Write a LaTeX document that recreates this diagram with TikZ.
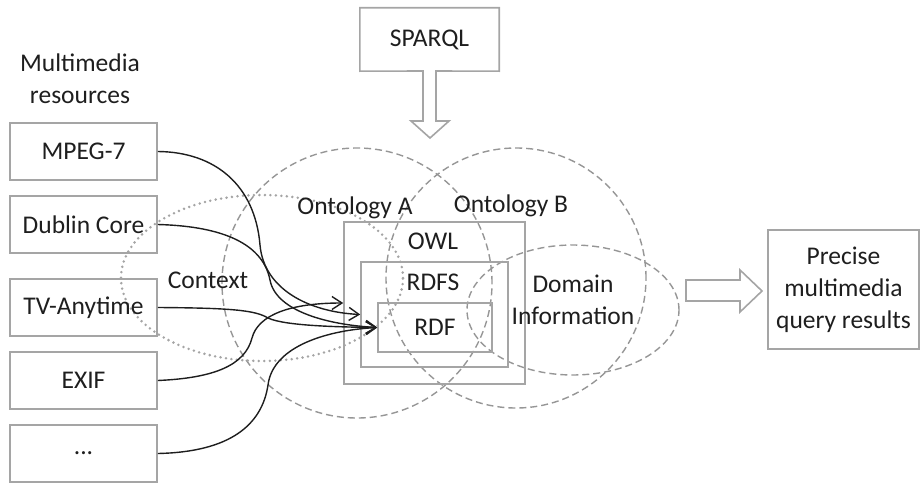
\documentclass[tikz,border=0pt]{standalone}
\usepackage{fontspec}
\setmainfont{Carlito}
\usetikzlibrary{arrows.meta}
\definecolor{boxgray}{RGB}{165,165,165}
\definecolor{ringgray}{RGB}{150,150,150}
\definecolor{dotgray}{RGB}{165,165,165}
\definecolor{inkgray}{RGB}{30,30,30}
\begin{document}
\begin{tikzpicture}[x=1pt,y=-1pt,
  every node/.style={font=\fontsize{25.5pt}{32pt}\selectfont, text=inkgray},
  resbox/.style={draw=boxgray, line width=1.6pt, minimum width=147pt, minimum height=57pt, inner sep=0pt},
  layerbox/.style={draw=boxgray, line width=1.6pt, inner sep=0pt},
  plainlbl/.style={inner sep=0pt, align=center},
  ring/.style={draw=ringgray, line width=1.4pt, dash pattern=on 7pt off 4pt},
  ctxring/.style={draw=dotgray, line width=2.8pt, line cap=round, dash pattern=on 0pt off 5.5pt},
  feed/.style={draw=inkgray, line width=1.4pt, -{Straight Barb[length=10pt,width=13pt,line width=1.4pt]}},
  blockarrow/.style={draw=boxgray, line width=1.6pt, fill=white, line join=miter}
]
\useasboundingbox (0,0) rectangle (920,484);

% ontology rings, context and domain regions
\draw[ring] (357,283) circle[radius=135pt];
\draw[ring] (516,278) circle[radius=130pt];
\draw[ctxring] (262,278) ellipse[x radius=141pt, y radius=83pt];
\draw[ring] (573,310) ellipse[x radius=106pt, y radius=65pt];

% nested semantic web layers
\node[layerbox, minimum width=181pt, minimum height=162pt] (owl) at (434.5,303) {};
\node[layerbox, minimum width=147pt, minimum height=105pt] (rdfs) at (434.5,314.5) {};
\node[layerbox, minimum width=114pt, minimum height=49pt] (rdf) at (435,327.5) {};
\node[plainlbl] (owllbl) at (433,241) {OWL};
\node[plainlbl] (rdfslbl) at (433,282) {RDFS};
\node[plainlbl] (rdflbl) at (435,327) {RDF};

% region labels
\node[plainlbl] (onta) at (355,208) {Ontology A};
\node[plainlbl] (ontb) at (511,206) {Ontology B};
\node[plainlbl] (ctx) at (208,280) {Context};
\node[plainlbl] (dom) at (573,300) {Domain\\Information};

% multimedia resource descriptions
\node[plainlbl] (reshead) at (80,79) {Multimedia\\resources};
\node[resbox] (mpeg) at (83.5,151.5) {MPEG-7};
\node[resbox] (dublin) at (83.5,224.5) {Dublin Core};
\node[resbox] (tv) at (83.5,307.5) {TV-Anytime};
\node[resbox] (exif) at (83.5,380.5) {EXIF};
\node[resbox] (dots) at (83.5,453.5) {...};

% query box with its downward arrow drawn as one outline
\node[inner sep=0pt, minimum width=139pt, minimum height=63pt] (sparql) at (429.5,39.5) {SPARQL};
\draw[blockarrow, fill=none] (sparql.south west) -- (sparql.north west) -- (sparql.north east)
  -- (sparql.south east) -- (436,71) -- (436,121) -- (449,121) -- (430,138)
  -- (411,121) -- (423,121) -- (423,71) -- cycle;

% results box and arrow
\node[resbox, minimum width=151pt, minimum height=119pt, align=center] (results) at (843.5,289.5) {Precise\\multimedia\\query results};
\coordinate (ra) at (686,280);
\draw[blockarrow] (ra) -- (740,280) -- (740,270) -- (762,291) -- (740,312) -- (740,301) -- (686,301) -- cycle;

% mappings of the descriptions onto the layers
\draw[feed] (mpeg.east) .. controls (215,152) and (255,185) .. (260,245)
  .. controls (264,290) and (310,312) .. (rdfs.west);
\draw[feed] (dublin.east) .. controls (215,226) and (262,240) .. (270,280)
  .. controls (276,312) and (330,325) .. (rdf.west);
\draw[feed] (tv.east) .. controls (230,308) and (255,310) .. (268,318)
  .. controls (285,326) and (340,327) .. (rdf.west);
\draw[feed] (exif.east) .. controls (215,378) and (245,365) .. (252,338)
  .. controls (258,315) and (290,303) .. (owl.west);
\draw[feed] (dots.east) .. controls (230,452) and (262,425) .. (268,385)
  .. controls (273,345) and (330,330) .. (rdf.west);
\end{tikzpicture}
\end{document}
